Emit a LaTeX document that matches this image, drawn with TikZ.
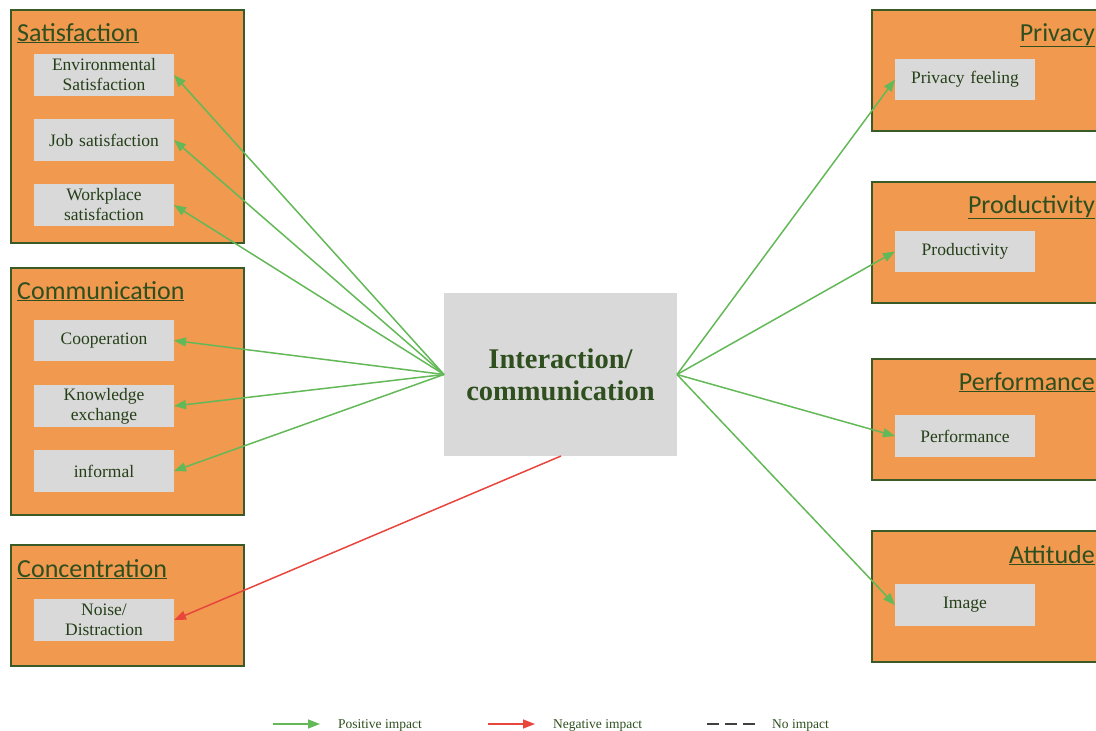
\documentclass[tikz,border=0pt]{standalone}
\usepackage{fontspec}
\setmainfont{Liberation Serif}
\newfontfamily\titlefont{Carlito}
\usetikzlibrary{arrows.meta}
\definecolor{boxorange}{HTML}{F0994F}
\definecolor{boxline}{HTML}{3A5A28}
\definecolor{itemgray}{HTML}{D9D9D9}
\definecolor{titlegreen}{HTML}{2F4F1F}
\definecolor{posgreen}{HTML}{63B857}
\definecolor{negred}{HTML}{E8453C}
\begin{document}
\begin{tikzpicture}[x=1pt,y=-1pt,
  group/.style={draw=boxline,line width=1.4pt,fill=boxorange,inner sep=0pt,outer sep=0pt,anchor=north west},
  item/.style={fill=itemgray,inner sep=0pt,outer sep=0pt,anchor=north west,
    minimum width=140pt,text width=136pt,align=center,
    font=\fontsize{17.5}{20}\selectfont,text=titlegreen!80!black},
  gtitle/.style={font=\titlefont\fontsize{26}{28}\selectfont,text=titlegreen,inner sep=0pt},
  hub/.style={fill=itemgray,inner sep=0pt,outer sep=0pt,anchor=north west,
    minimum width=233pt,minimum height=163pt,text width=225pt,align=center,
    font=\bfseries\fontsize{28.5}{32}\selectfont,text=titlegreen},
  posimpact/.style={draw=posgreen,line width=1.5pt,-{Triangle[length=12pt,width=9pt]}},
  negimpact/.style={draw=negred,line width=1.5pt,-{Triangle[length=12pt,width=9pt]}},
  legendtext/.style={font=\fontsize{13.5}{15}\selectfont,text=titlegreen,anchor=base west,inner sep=0pt}
]
\useasboundingbox (0,0) rectangle (1096,731);
\clip (0,0) rectangle (1096,731);

% left-hand groups
\node[group,minimum width=233pt,minimum height=233pt] (gsat) at (11,10) {};
\node[gtitle,anchor=base west] (tsat) at (17,41) {\underline{Satisfaction}};
\node[item,minimum height=42pt] (envsat) at (34,54) {Environmental\\Satisfaction};
\node[item,minimum height=42pt] (jobsat) at (34,119) {Job satisfaction};
\node[item,minimum height=42pt] (worksat) at (34,184) {Workplace\\satisfaction};

\node[group,minimum width=233pt,minimum height=247pt] (gcom) at (11,268) {};
\node[gtitle,anchor=base west] (tcom) at (17,299) {\underline{Communication}};
\node[item,minimum height=41pt] (coop) at (34,320) {Cooperation};
\node[item,minimum height=42pt] (know) at (34,385) {Knowledge\\exchange};
\node[item,minimum height=42pt] (informal) at (34,450) {informal};

\node[group,minimum width=233pt,minimum height=121pt] (gcon) at (11,545) {};
\node[gtitle,anchor=base west] (tcon) at (17,577) {\underline{Concentration}};
\node[item,minimum height=42pt] (noise) at (34,599) {Noise/\\Distraction};

% right-hand groups (running past the right edge)
\node[group,minimum width=240pt,minimum height=121pt] (gpri) at (872,10) {};
\node[gtitle,anchor=base east] (tpri) at (1095,41) {\underline{Privacy}};
\node[item,minimum height=41pt] (privacy) at (895,59) {Privacy feeling};

\node[group,minimum width=240pt,minimum height=121pt] (gpro) at (872,182) {};
\node[gtitle,anchor=base east] (tpro) at (1095,213) {\underline{Productivity}};
\node[item,minimum height=41pt] (product) at (895,231) {Productivity};

\node[group,minimum width=240pt,minimum height=121pt] (gper) at (872,359) {};
\node[gtitle,anchor=base east] (tper) at (1095,390) {\underline{Performance}};
\node[item,minimum height=42pt] (perform) at (895,415) {Performance};

\node[group,minimum width=240pt,minimum height=131pt] (gatt) at (872,531) {};
\node[gtitle,anchor=base east] (tatt) at (1095,563) {\underline{Attitude}};
\node[item,minimum height=42pt] (image) at (895,584) {Image};

% central node
\node[hub] (hub) at (444,293) {Interaction/\\communication};

% impacts
\foreach \t in {envsat,jobsat,worksat,coop,know,informal}
  \draw[posimpact] (hub.west) -- (\t.east);
\foreach \t in {privacy,product,perform,image}
  \draw[posimpact] (hub.east) -- (\t.west);
\coordinate (hubbottom) at (561,456);
\draw[negimpact] (hubbottom) -- (noise.east);

% legend
\coordinate (l1a) at (273,724); \coordinate (l1b) at (320,724);
\coordinate (l2a) at (488,724); \coordinate (l2b) at (535,724);
\coordinate (l3a) at (707,724); \coordinate (l3b) at (755,724);
\draw[posimpact] (l1a) -- (l1b);
\draw[negimpact] (l2a) -- (l2b);
\draw[line width=1.6pt,dash pattern=on 12pt off 6pt,color=black!75] (l3a) -- (l3b);
\node[legendtext] (lpos) at (338,728) {Positive impact};
\node[legendtext] (lneg) at (553,728) {Negative impact};
\node[legendtext] (lno) at (772,728) {No impact};
\end{tikzpicture}
\end{document}
